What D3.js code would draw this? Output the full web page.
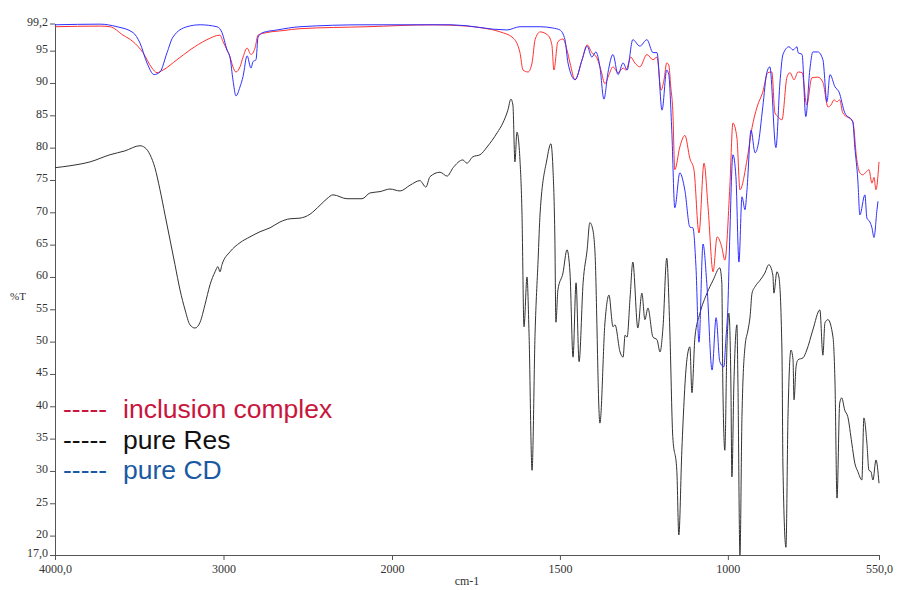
<!DOCTYPE html>
<html>
<head>
<meta charset="utf-8">
<script src="https://cdn.jsdelivr.net/npm/d3@7"></script>
<style>
  body { margin: 0; background: #fff; }
  svg { display: block; }
  .axis text { font-family: "Liberation Serif", "Times New Roman", serif; font-size: 12px; fill: #333; }
  .axis path, .axis line { stroke: #555; }
</style>
</head>
<body>
<div id="chart"></div>
<script>
// pure Res (black)
const resWn = [4000,3911,3792,3674,3585,3496,3466,3436,3407,3377,3347,3317,3288,3258,3228,3199,3169,3139,3110,3080,3050,3033,3021,3009,2961,2902,2843,2783,2724,2665,2605,2546,2487,2427,2386,2350,2267,2178,2130,2071,2012,1976,1946,1917,1899,1887,1857,1836,1818,1789,1777,1759,1738,1717,1687,1670,1655,1646,1640,1634,1628,1619,1613,1607,1598,1592,1583,1574,1565,1559,1539,1527,1521,1515,1512,1506,1491,1479,1470,1461,1452,1443,1431,1419,1411,1402,1396,1381,1366,1354,1342,1336,1321,1312,1306,1300,1291,1283,1268,1256,1247,1238,1223,1211,1202,1193,1182,1173,1164,1152,1146,1137,1122,1113,1107,1098,1083,1062,1044,1024,1018,1015,1009,1003,997,991,988,982,973,970,964,958,949,940,934,928,919,904,890,878,866,863,854,848,839,836,827,821,812,806,803,797,791,776,765,747,726,717,711,702,687,681,675,667,661,652,643,631,622,613,601,595,586,580,574,568,559,550];
const resT = [76.9,77.2,77.8,78.9,79.5,80.3,80.0,78.9,76.9,73.5,69.6,65.7,61.9,58.0,54.9,52.6,52.1,53.0,55.7,58.8,60.8,61.6,60.8,61.9,63.9,65.3,66.2,67.0,67.6,68.5,69.0,69.1,69.7,71.1,72.1,72.7,72.1,72.1,73.0,73.2,73.6,73.3,74.2,74.9,73.9,75.5,76.2,75.6,76.9,78.1,77.6,78.6,78.9,80.1,82.3,83.8,85.8,87.5,86.6,77.8,82.4,78.1,69.9,52.3,60.0,51.3,30.1,51.3,62.6,69.9,78.1,80.6,77.0,65.7,53.0,58.0,60.6,64.2,60.6,47.6,59.1,46.9,59.1,64.2,68.4,67.3,64.2,37.4,52.9,57.2,52.3,52.6,48.4,47.6,51.0,50.7,56.9,62.3,52.1,57.5,53.4,55.2,50.7,50.3,48.4,52.3,62.9,52.1,35.3,30.1,20.1,33.2,47.2,49.2,42.1,50.7,54.4,57.5,59.5,61.4,59.1,43.6,33.2,48.7,54.4,43.6,29.1,43.6,52.6,43.6,17.0,38.4,49.2,51.8,53.8,57.5,58.5,59.5,60.6,61.9,60.3,57.5,60.8,60.0,48.7,30.6,18.2,38.4,48.7,47.2,41.0,46.1,47.2,47.5,48.7,51.8,54.9,47.9,52.9,53.4,50.7,43.6,25.8,40.5,41.3,39.4,38.4,34.3,31.2,29.9,28.6,38.2,34.3,30.1,29.9,28.6,31.7,28.1];

// pure CD (blue)
const cdWn = [4000,3733,3632,3537,3496,3454,3412,3377,3335,3300,3217,3139,3039,3009,2979,2961,2944,2926,2902,2884,2860,2837,2825,2807,2795,2766,2682,2546,2160,1824,1658,1619,1559,1521,1500,1485,1476,1455,1434,1419,1405,1393,1381,1369,1357,1342,1327,1312,1300,1283,1262,1241,1223,1211,1196,1182,1176,1167,1158,1143,1128,1113,1104,1095,1086,1074,1062,1047,1035,1024,1012,1006,1000,994,985,976,967,958,949,943,931,919,910,896,884,875,857,845,836,818,806,794,791,779,768,756,747,732,717,705,696,681,669,652,628,622,613,607,592,586,577,571,565,556,553];
const cdT = [99.0,99.1,98.7,97.8,96.2,93.1,91.3,91.7,94.7,97.1,98.7,99.0,98.7,97.8,95.1,93.9,90.5,88.0,89.4,91.0,94.2,92.3,93.3,93.6,97.1,97.8,98.2,98.7,99.0,99.0,98.2,98.7,98.7,98.5,98.2,96.7,93.1,90.5,93.6,95.7,94.0,94.8,92.5,87.5,91.6,94.4,91.3,93.1,92.0,96.7,95.7,96.7,94.7,94.7,85.8,92.0,91.3,82.7,70.7,76.1,73.4,67.7,67.6,61.6,49.9,65.1,58.5,45.6,53.7,46.9,46.1,50.3,55.4,66.8,78.9,75.5,62.3,72.4,70.4,73.5,82.7,79.2,80.4,86.3,91.6,92.5,80.0,90.0,94.4,95.6,95.1,95.6,94.7,94.4,84.8,92.0,94.8,94.8,93.6,87.1,91.3,89.4,88.6,85.4,84.0,80.1,75.0,69.6,72.7,69.1,68.5,67.6,66.1,70.4,71.7];

// inclusion complex (red)
const icWn = [4000,3733,3674,3596,3537,3478,3424,3395,3359,3276,3199,3098,3021,3003,2979,2961,2944,2926,2902,2884,2860,2837,2813,2795,2742,2647,2546,2148,1878,1777,1729,1678,1640,1619,1610,1595,1583,1574,1559,1536,1524,1518,1506,1491,1479,1470,1455,1434,1419,1405,1390,1378,1366,1354,1342,1327,1312,1303,1289,1277,1262,1241,1223,1211,1199,1190,1182,1176,1170,1164,1158,1143,1128,1113,1101,1086,1071,1059,1044,1032,1018,1009,994,985,973,964,943,928,913,896,881,869,860,851,839,824,815,803,791,779,765,750,732,717,702,693,684,675,667,658,628,616,607,598,589,580,571,565,559,550];
const icT = [98.7,98.8,98.7,97.4,96.4,94.7,92.3,91.6,92.0,93.6,95.1,96.7,97.4,96.4,95.1,94.0,92.5,91.7,92.5,94.0,95.4,94.4,95.4,97.4,97.8,98.1,98.4,98.7,99.0,98.8,98.5,97.9,97.0,94.7,92.0,91.7,93.1,96.7,97.9,97.4,95.9,92.0,96.4,96.8,95.1,93.1,90.5,93.6,95.9,94.7,93.9,92.0,89.9,91.3,92.5,91.6,92.3,92.0,94.0,93.1,92.5,94.4,93.6,94.0,88.9,90.5,93.1,92.8,89.4,85.8,76.6,80.1,81.9,78.3,76.6,66.8,77.6,70.8,60.8,66.2,64.6,62.6,74.1,83.8,81.5,73.5,78.1,83.1,86.3,88.6,91.6,91.7,85.4,84.8,84.3,90.9,91.6,90.5,91.7,91.6,86.6,90.8,90.9,90.1,86.3,86.6,87.4,87.1,87.4,85.4,84.0,78.1,76.1,75.8,76.2,76.6,74.5,75.4,73.5,77.8];

const xTicks = [4000, 3000, 2000, 1500, 1000, 550];
const yTicks = [99.2, 95, 90, 85, 80, 75, 70, 65, 60, 55, 50, 45, 40, 35, 30, 25, 20, 17];

const legendItems = [
  { name: "inclusion complex", color: "#c8163c" },
  { name: "pure Res", color: "#111111" },
  { name: "pure CD", color: "#1b5aa3" }
];

const width = 897, height = 590;

const svg = d3.select("#chart").append("svg")
  .attr("width", width)
  .attr("height", height);

// the instrument plot switches scale at 2000 cm-1
const x = d3.scaleLinear().domain([4000, 2000, 550]).range([55, 392, 879]);
const y = d3.scaleLinear().domain([17, 99.2]).range([555, 23.5]);

const fmtX = d => d === 4000 ? "4000,0" : d === 550 ? "550,0" : d;
const fmtY = d => d === 99.2 ? "99,2" : d === 17 ? "17,0" : d;

svg.append("g")
  .attr("class", "axis")
  .attr("transform", `translate(0,${y(17)})`)
  .call(d3.axisBottom(x).tickValues(xTicks).tickFormat(fmtX).tickSize(5).tickSizeOuter(0).tickPadding(4));

const yAxis = svg.append("g")
  .attr("class", "axis")
  .attr("transform", `translate(${x(4000)},0)`)
  .call(d3.axisLeft(y).tickValues(yTicks).tickFormat(fmtY).tickSize(5).tickSizeOuter(0).tickPadding(2));
yAxis.selectAll(".tick text").attr("dy", "0.15em");

svg.append("text")
  .attr("x", 10).attr("y", 300)
  .style("font-family", "Liberation Serif, serif").style("font-size", "11px").style("fill", "#333")
  .text("%T");

svg.append("text")
  .attr("x", 467).attr("y", 585)
  .attr("text-anchor", "middle")
  .style("font-family", "Liberation Serif, serif").style("font-size", "12px").style("fill", "#333")
  .text("cm-1");

const line = d3.line()
  .x(d => x(d[0]))
  .y(d => y(d[1]))
  .curve(d3.curveMonotoneX);

const series = [
  { wn: resWn, t: resT, color: "#333333", width: 1 },
  { wn: icWn, t: icT, color: "#ff3030", width: 1 },
  { wn: cdWn, t: cdT, color: "#3030ff", width: 1 }
];

svg.append("g")
  .selectAll("path")
  .data(series)
  .join("path")
  .attr("d", s => line(d3.zip(s.wn, s.t)))
  .attr("fill", "none")
  .attr("stroke", s => s.color)
  .attr("stroke-width", s => s.width);

// legend
const legend = svg.append("g")
  .style("font-family", "Liberation Sans, Arial, sans-serif")
  .style("font-size", "26.5px");

const rows = legend.selectAll("g")
  .data(legendItems)
  .join("g")
  .attr("transform", (d, i) => `translate(0,${418 + i * 30.5})`)
  .style("fill", d => d.color);

rows.append("text").attr("x", 63).text("-----");
rows.append("text").attr("x", 123).text(d => d.name);
</script>
</body>
</html>
